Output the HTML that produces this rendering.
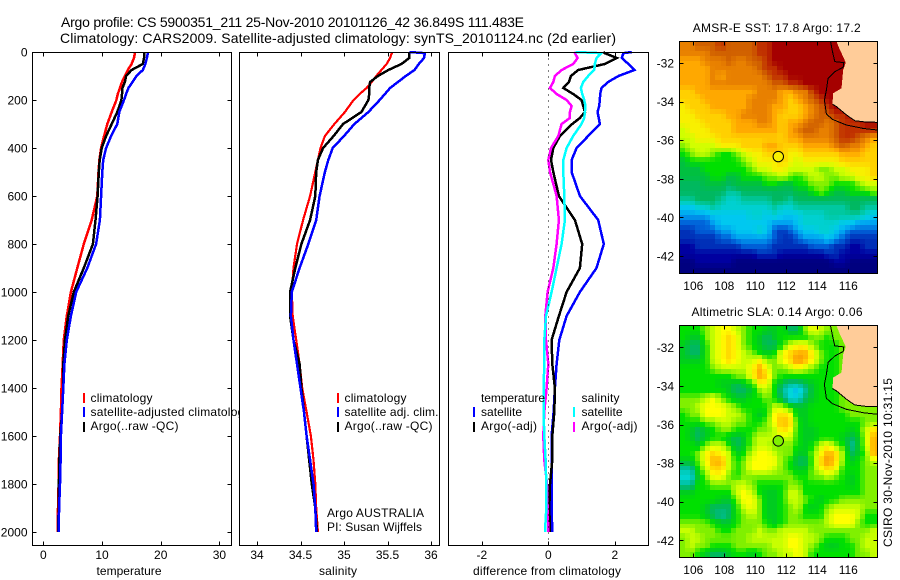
<!DOCTYPE html>
<html lang="en">
<head>
<meta charset="utf-8">
<title>Argo profile chart</title>
<style>
html,body{margin:0;padding:0;background:#fff;width:900px;height:580px;overflow:hidden}
svg{position:absolute;left:0;top:0;display:block}
text{font-family:"Liberation Sans",sans-serif;font-size:12px;fill:#000}
.ttl{font-size:14px}
</style>
</head>
<body>
<svg id="chart" xmlns="http://www.w3.org/2000/svg" width="900" height="580" viewBox="0 0 900 580">
  <defs>
    <clipPath id="legend-clip"><rect x="33" y="52" width="207" height="494"/></clipPath>
  </defs>
  <rect x="0" y="0" width="900" height="580" fill="#fff"/>
  <text class="ttl" x="61" y="27" textLength="463">Argo profile: CS 5900351_211 25-Nov-2010 20101126_42 36.849S 111.483E</text>
  <text class="ttl" x="60" y="43" textLength="556">Climatology: CARS2009. Satellite-adjusted climatology: synTS_20101124.nc (2d earlier)</text>
  <g id="plots"></g>

  <g>
    <rect x="83" y="393" width="2" height="10" fill="#f00"/>
    <rect x="83" y="407" width="2" height="10" fill="#00f"/>
    <rect x="83" y="422" width="2" height="10" fill="#000"/>
    <text x="90.5" y="402" textLength="62">climatology</text>
    <text x="90.5" y="416" clip-path="url(#legend-clip)" textLength="160">satellite-adjusted climatology</text>
    <text x="90.5" y="430" textLength="88">Argo(..raw -QC)</text>
  </g>
  <g>
    <rect x="337" y="393" width="2" height="10" fill="#f00"/>
    <rect x="337" y="407" width="2" height="10" fill="#00f"/>
    <rect x="337" y="422" width="2" height="10" fill="#000"/>
    <text x="344.5" y="402" textLength="62">climatology</text>
    <text x="344.5" y="416" textLength="94">satellite adj. clim.</text>
    <text x="344.5" y="430" textLength="88">Argo(..raw -QC)</text>
    <text x="327" y="517" textLength="97">Argo AUSTRALIA</text>
    <text x="327" y="531" textLength="95">PI: Susan Wijffels</text>
  </g>
  <g>
    <text x="481" y="402" textLength="64">temperature</text>
    <rect x="473" y="407" width="2" height="10" fill="#00f"/>
    <text x="481" y="416" textLength="41">satellite</text>
    <rect x="473" y="422" width="2" height="10" fill="#000"/>
    <text x="481" y="430" textLength="56">Argo(-adj)</text>
    <text x="581.5" y="402" textLength="38">salinity</text>
    <rect x="573" y="407" width="2" height="10" fill="#0ff"/>
    <text x="581.5" y="416" textLength="41">satellite</text>
    <rect x="573" y="422" width="2" height="10" fill="#f0f"/>
    <text x="581.5" y="430" textLength="56">Argo(-adj)</text>
  </g>

  <text x="129" y="575" text-anchor="middle" textLength="65">temperature</text>
  <text x="338" y="575" text-anchor="middle" textLength="38">salinity</text>
  <text x="547" y="575" text-anchor="middle" textLength="148">difference from climatology</text>
  <text x="776.7" y="32" text-anchor="middle" textLength="168">AMSR-E SST: 17.8 Argo: 17.2</text>
  <text x="777" y="316" text-anchor="middle" textLength="171">Altimetric SLA: 0.14 Argo: 0.06</text>
  <text transform="translate(892,547) rotate(-90)" textLength="169">CSIRO 30-Nov-2010 10:31:15</text>
</svg>

<script>
// ---- profile data ----
var profileDepths = [0,5,25,50,75,100,125,150,175,200,250,300,350,400,450,500,600,700,800,900,1000,1100,1200,1300,1400,1500,1600,1700,1800,1900,2000];
var tempClim = [15.6,15.6,15.45,15.05,14.4,13.9,13.4,13.05,12.7,12.45,11.65,10.9,10.35,9.85,9.55,9.4,9.2,8.25,6.9,5.8,4.7,4.0,3.5,3.3,3.1,3.0,2.85,2.65,2.6,2.5,2.45];
var tempSat = [17.8,17.8,17.65,17.4,16.95,15.9,15.2,14.5,14.1,13.75,12.95,12.6,11.55,10.7,10.2,10.05,9.85,9.65,9.0,7.5,5.6,4.7,4.0,3.6,3.4,3.2,3.0,2.95,2.85,2.7,2.6];
var tempArgo = [17.15,17.15,17.15,16.95,15.05,14.1,13.9,13.5,13.4,13.3,12.6,11.65,10.7,9.95,9.6,9.45,9.25,8.9,8.45,6.9,5.2,4.25,3.7,3.4,3.4,3.2,2.9,2.75,2.65,2.6,2.55];
var salClim = [35.55,35.55,35.53,35.49,35.43,35.37,35.32,35.26,35.18,35.11,35.01,34.89,34.78,34.73,34.70,34.67,34.61,34.53,34.46,34.42,34.40,34.41,34.45,34.49,34.52,34.57,34.62,34.65,34.67,34.68,34.70];
var salSat = [35.75,35.93,35.92,35.86,35.81,35.71,35.62,35.53,35.47,35.41,35.28,35.12,35.0,34.87,34.82,34.78,34.72,34.68,34.59,34.49,34.40,34.39,34.42,34.46,34.50,34.54,34.57,34.61,34.65,34.67,34.68];
var salArgo = [35.75,35.75,35.75,35.66,35.51,35.39,35.30,35.29,35.29,35.28,35.20,34.99,34.88,34.76,34.70,34.68,34.67,34.61,34.51,34.44,34.38,34.38,34.42,34.49,34.51,34.54,34.57,34.60,34.63,34.67,34.69];

var diffDepths = [0,5,25,50,75,100,125,150,175,200,225,250,275,300,350,400,450,500,600,700,800,900,1000,1100,1200,1300,1400,1500,1600,1700,1800,1900,2000];
var diffTempSat = [2.51,2.26,2.21,2.41,2.59,2.11,1.80,1.60,1.56,1.55,1.53,1.48,1.52,1.55,1.20,0.85,0.70,0.70,0.95,1.50,1.67,1.45,0.95,0.55,0.33,0.25,0.20,0.16,0.10,0.11,0.10,0.10,0.12];
var diffTempArgo = [1.65,1.70,2.06,1.70,0.90,0.68,0.62,0.45,0.75,1.00,1.05,1.10,0.95,0.72,0.35,0.15,0.08,0.15,0.32,0.80,1.02,0.95,0.55,0.32,0.10,0.12,0.20,0.18,0.12,0.12,0.05,0.03,0.05];
var diffSalSat = [0.82,1.60,1.45,1.40,1.38,1.20,1.05,0.98,1.02,1.08,1.12,1.10,1.08,1.00,0.75,0.55,0.45,0.45,0.48,0.50,0.40,0.25,0.10,-0.07,-0.12,-0.12,-0.14,-0.14,-0.12,-0.08,-0.06,-0.06,-0.10];
var diffSalArgo = [0.82,0.80,0.88,0.75,0.40,0.20,0.15,0.05,0.25,0.55,0.70,0.65,0.65,0.40,0.30,0.08,0,0.05,0.25,0.32,0.25,0.15,-0.02,-0.09,-0.07,0,-0.05,-0.12,-0.15,-0.12,-0.04,-0.02,0];

// ---- tick labels ----
var depthTicks = [0,200,400,600,800,1000,1200,1400,1600,1800,2000];
var tempTicks = [0,10,20,30];
var salTicks = [34,34.5,35,35.5,36];
var diffTicks = [-2,0,2];
var lonTicks = [106,108,110,112,114,116];
var latTicks = [-32,-34,-36,-38,-40,-42];

// ---- map data: colour-class value of each gridded cell, north to south ----
var sstGrid = [
[16,16,17,17,17,18,17,17,17,17,18,18,19,19,19,19,19,19,19,19,19,19,19,19,19,19],
[16,16,16,16,17,17,17,17,17,17,18,18,19,19,19,19,19,19,19,19,19,19,19,19,19,19],
[15,15,15,16,16,16,17,16,16,17,17,18,19,19,19,19,19,19,19,19,19,19,19,19,19,19],
[15,15,15,15,16,16,16,16,16,16,17,18,18,19,19,19,19,19,19,19,19,19,19,19,19,19],
[15,15,15,15,16,15,16,16,16,16,16,17,18,18,19,19,19,19,19,19,19,19,19,19,19,19],
[15,15,15,15,16,16,16,16,16,16,16,16,17,17,18,18,19,19,19,19,19,19,19,19,19,19],
[14,14,15,15,15,15,15,15,15,15,16,16,16,15,15,16,16,18,19,19,19,19,19,19,19,19],
[14,14,14,15,15,15,15,15,15,16,16,16,16,15,14,15,16,17,18,19,19,19,19,19,19,19],
[13,14,14,14,15,15,15,15,15,16,16,16,15,15,14,14,15,16,17,18,19,19,19,19,19,19],
[13,13,14,14,14,14,15,15,16,16,16,16,15,14,14,14,15,16,17,17,18,18,19,19,19,19],
[13,13,13,14,14,14,14,15,15,15,16,16,15,14,15,15,16,17,17,16,17,18,18,18,19,19],
[12,13,13,13,14,14,14,15,15,15,15,15,15,14,15,16,17,17,16,16,17,18,18,18,18,18],
[12,12,13,13,13,14,14,14,14,14,14,14,14,14,15,15,16,16,16,16,17,18,18,17,16,15],
[11,12,12,12,12,13,13,13,14,14,14,15,15,14,14,14,15,15,15,15,16,17,16,16,15,14],
[10,11,12,12,11,10,10,11,12,13,13,14,14,14,13,13,14,14,14,14,14,15,15,15,14,14],
[9,10,10,10,10,10,10,10,11,12,13,13,13,14,13,12,13,13,13,13,13,14,14,14,14,14],
[9,9,9,10,10,10,10,10,10,11,12,12,13,13,12,12,12,12,11,11,12,12,13,13,13,14],
[9,9,9,9,10,10,9,9,10,10,10,11,11,12,11,10,11,12,12,11,11,12,12,13,13,14],
[8,8,8,9,9,9,8,9,9,9,9,10,10,9,9,10,10,11,11,11,10,10,10,11,12,12],
[8,8,8,8,8,8,7,7,8,8,8,8,8,8,8,9,9,10,11,10,9,9,10,10,10,11],
[7,7,8,8,8,7,6,6,7,7,7,7,8,8,7,8,8,8,8,8,8,8,8,8,8,8],
[5,5,6,6,7,6,6,6,6,6,6,6,7,6,6,7,7,7,7,7,7,7,8,8,7,7],
[4,4,4,4,5,5,5,5,5,6,6,5,6,5,5,5,6,6,6,7,7,7,7,7,6,5],
[3,3,3,3,4,5,5,5,5,5,5,5,4,4,4,5,6,6,6,6,6,5,5,4,4,4],
[2,2,3,3,3,4,4,5,5,5,6,5,3,2,3,4,5,5,6,6,5,4,3,3,3,3],
[2,2,2,2,2,3,3,4,4,4,4,4,3,2,2,3,4,4,4,5,4,3,2,2,2,2],
[1,1,2,2,2,2,2,2,3,3,3,3,2,2,2,2,2,3,3,3,2,2,1,1,2,2],
[1,1,1,1,1,1,1,1,1,1,2,2,2,1,1,1,1,1,1,2,2,1,1,1,1,1],
[0,0,1,1,1,1,1,0,0,0,0,0,0,0,0,0,0,0,0,0,1,1,0,0,0,0],
[0,0,0,0,0,0,0,0,0,0,0,0,0,0,0,0,0,0,0,0,0,0,0,0,0,0]
];
var slaGrid = [
[5,5,5,6,7,8,8,7,6,5,5,4,4,5,3,3,6,8,7,6,6,6,6,6,6,6],
[5,4,4,6,7,8,9,8,6,5,4,3,4,5,5,5,5,6,6,5,6,6,6,6,6,6],
[4,3,3,5,7,8,9,8,6,5,4,3,3,5,7,8,8,6,5,5,5,6,6,6,6,6],
[4,3,3,5,7,8,9,8,7,6,5,4,5,8,9,10,10,8,6,5,5,6,6,6,6,6],
[4,4,4,5,7,8,9,8,7,7,8,6,6,8,9,11,10,8,6,5,5,6,6,6,6,6],
[5,5,5,5,6,7,7,7,7,8,10,8,6,6,7,8,7,6,5,5,5,6,6,6,6,6],
[5,5,5,5,5,5,5,6,6,8,10,9,6,5,5,5,5,5,5,5,5,6,6,6,6,6],
[5,5,5,5,5,4,4,3,4,5,8,8,5,3,2,2,3,4,5,5,5,6,6,6,6,6],
[5,5,5,5,5,5,4,3,3,4,6,7,5,2,1,0,2,4,5,5,5,6,6,6,6,6],
[6,6,6,7,8,6,5,4,4,5,5,6,5,3,1,1,3,4,5,5,5,6,6,6,6,6],
[6,6,7,8,8,8,7,6,5,5,5,5,7,7,5,4,4,5,5,5,5,6,6,6,6,6],
[5,6,6,8,8,8,7,7,6,5,4,5,8,9,8,4,4,5,5,5,5,5,6,6,6,6],
[5,5,5,6,6,7,7,6,6,5,5,6,8,10,9,5,4,5,5,5,5,5,5,5,6,6],
[5,4,3,4,5,6,6,5,5,5,6,6,7,9,8,5,4,4,5,5,5,5,4,5,7,9],
[5,4,3,4,5,5,4,3,4,6,7,7,7,7,7,5,4,4,5,5,5,4,3,4,7,10],
[5,5,4,6,7,7,5,3,4,6,7,7,6,6,6,5,4,5,7,8,6,5,2,4,7,10],
[5,5,6,8,9,8,7,4,5,7,8,8,7,6,6,4,4,6,8,10,9,6,3,4,6,10],
[4,4,6,8,10,10,7,5,6,8,8,8,8,6,5,3,3,6,9,11,9,6,4,5,6,7],
[2,2,5,7,9,9,7,5,6,8,8,8,7,6,5,4,4,6,8,9,8,5,5,5,6,6],
[1,1,4,6,8,8,6,5,6,6,6,6,6,6,6,5,5,6,6,7,6,5,4,5,6,6],
[2,2,5,5,6,6,6,7,7,6,5,5,5,5,6,6,5,5,5,5,5,5,4,5,6,6],
[4,4,5,5,5,5,5,7,8,7,5,4,4,5,7,7,5,5,5,5,5,5,5,5,6,6],
[5,5,5,5,5,4,4,6,8,8,6,4,4,5,7,7,6,5,4,5,5,6,6,6,6,6],
[5,5,5,4,3,3,3,5,7,8,6,4,4,5,6,7,5,4,5,6,7,7,7,7,6,6],
[5,5,5,4,3,2,3,5,6,7,6,4,4,5,6,6,5,5,5,7,8,8,8,7,5,5],
[6,6,6,6,5,4,4,5,6,6,6,5,4,5,6,6,6,6,6,7,8,8,8,6,5,5],
[7,7,6,6,6,5,5,6,6,6,7,6,6,7,7,7,7,6,6,6,6,6,6,6,6,7],
[6,7,7,6,6,6,6,6,6,7,7,7,7,7,8,8,7,7,6,5,5,5,6,6,7,7],
[6,7,6,6,5,5,5,6,6,6,6,6,7,7,8,8,7,6,5,4,4,5,5,6,7,7],
[6,6,5,4,3,3,4,5,5,4,5,6,6,7,7,8,7,5,5,5,5,5,5,6,6,7]
];
var sstClasses = ['#00007f','#0000a0','#0030b8','#0060d8','#00a0f0','#00c8f0','#00d0d0','#00c8a0','#00b860','#00c040','#00e000','#80f000','#d0ff00','#f8f000','#ffd000','#ffa800','#e88000','#d06000','#c03000','#a50000'];
var slaClasses = ['#00b8f0','#00d8d8','#00c0a0','#00b860','#00cc20','#00e000','#80f000','#c8ff00','#ffff00','#ffd800','#ffb000','#f09000'];

// ---- geography (degrees) ----
var landLon = [115.24,115.41,115.62,115.84,115.67,115.62,115.56,115.02,114.98,115.24,115.88,116.42,117.17,117.88,117.88];
var landLat = [-30.88,-31.24,-31.59,-31.98,-32.36,-32.79,-33.31,-33.57,-34.14,-34.26,-34.69,-34.99,-35.06,-35.07,-30.88];
var coastLon = [114.98,115.24,115.88,116.42,117.17,117.88];
var coastLat = [-34.14,-34.26,-34.69,-34.99,-35.06,-35.07];
var shelfLon = [114.85,114.98,115.13,115.71,115.67,115.13,114.70,114.59,114.46,114.59,114.98,115.88,116.95,117.88];
var shelfLat = [-30.88,-31.41,-31.93,-31.98,-32.22,-32.45,-32.79,-33.40,-33.92,-34.64,-34.92,-35.21,-35.39,-35.47];
var floatLon = 111.483;
var floatLat = -36.849;
var floatSstClass = 13;
var floatSlaClass = 6;

// ---- axis functions ----
function depthY(d){ return 52 + 0.24 * d; }
function tempX(t){ return 43.3 + 5.87 * t; }
function salX(s){ return 257 + 87 * (s - 34); }
function diffX(v){ return 548.3 + 33.25 * v; }
function lonX(lon){ return 693.3 + 15.5 * (lon - 106); }
function sstLatY(lat){ return 63 + 19.3 * (-32 - lat); }
function slaLatY(lat){ return 347.3 + 19.3 * (-32 - lat); }

var NS = 'http://www.w3.org/2000/svg';
var plots = document.getElementById('plots');
function mk(tag, attrs, parent, txt){
  var el = document.createElementNS(NS, tag);
  for (var k in attrs) el.setAttribute(k, attrs[k]);
  if (txt !== undefined) el.textContent = txt;
  parent.appendChild(el);
  return el;
}
function tickLine(g, x1, y1, x2, y2){
  var el = mk('line', {x1:x1, y1:y1, x2:x2, y2:y2, stroke:'#000', 'stroke-width':1, 'shape-rendering':'crispEdges'}, g);
  
  
}
function tickText(g, x, y, anchor, label){
  var el = mk('text', {x:x, y:y, 'text-anchor':anchor}, g, label);
  
  
}
function frame(g, x0, y0, x1, y1){
  var el = mk('rect', {x:x0, y:y0, width:x1-x0, height:y1-y0, fill:'none', stroke:'#000', 'stroke-width':1, 'shape-rendering':'crispEdges'}, g);
  
  
}
function background(g, x0, y0, x1, y1){
  var el = mk('rect', {x:x0, y:y0, width:x1-x0, height:y1-y0, fill:'#fff'}, g);
  
  
}
function profileLine(g, name, xf, depths, values, color, width){
  var pts = [];
  for (var i = 0; i < values.length; i++) pts.push(xf(values[i]).toFixed(1) + ',' + depthY(depths[i]).toFixed(1));
  var el = mk('polyline', {points:pts.join(' '), fill:'none', stroke:color, 'stroke-width':width, 'stroke-linejoin':'miter', 'shape-rendering':'crispEdges'}, g);
  
  
}

var PT = 52.5, PB = 545.5;

function profilePanel(name, x0, x1, xf, ticks, showDepth, lines){
  var g = mk('g', {}, plots);
  
  
  lines.forEach(function(l){ profileLine(g, l[0], xf, l[1], l[2], l[3], l[4]); });
  ticks.forEach(function(t){
    var x = Math.round(xf(t)) + 0.5;
    tickLine(g, x, PT, x, PT + 4);
    tickLine(g, x, PB, x, PB - 4);
    tickText(g, xf(t), 559, 'middle', String(t));
  });
  if (showDepth) depthTicks.forEach(function(d){
    var y = Math.round(depthY(d)) + 0.5;
    tickLine(g, x0, y, x0 + 4, y);
    tickLine(g, x1, y, x1 - 4, y);
    tickText(g, 27.5, depthY(d) + 4.5, 'end', String(d));
  });
  frame(g, x0, PT, x1, PB);
  return g;
}

// temperature panel
profilePanel('temperature-panel', 32.5, 231.5, tempX, tempTicks, true, [
  ['temperature-climatology-line', profileDepths, tempClim, '#f00', 2.5],
  ['temperature-argo-line', profileDepths, tempArgo, '#000', 2.5],
  ['temperature-satellite-line', profileDepths, tempSat, '#00f', 2.5]
]);

// salinity panel
(function(){
  var g = mk('g', {}, plots);
  
  
  background(g, 239.5, PT, 439.5, PB);
  background(g, 448.5, PT, 648.5, PB);
})();
profilePanel('salinity-panel', 239.5, 439.5, salX, salTicks, false, [
  ['salinity-climatology-line', profileDepths, salClim, '#f00', 2.2],
  ['salinity-argo-line', profileDepths, salArgo, '#000', 2.5],
  ['salinity-satellite-line', profileDepths, salSat, '#00f', 2.5]
]);

// difference panel
var diffPanel = profilePanel('difference-panel', 448.5, 648.5, diffX, diffTicks, false, [
  ['diff-temperature-satellite-line', diffDepths, diffTempSat, '#00f', 2.5],
  ['diff-temperature-argo-line', diffDepths, diffTempArgo, '#000', 2.5],
  ['diff-salinity-argo-line', diffDepths, diffSalArgo, '#f0f', 2.5],
  ['diff-salinity-satellite-line', diffDepths, diffSalSat, '#0ff', 2.5]
]);
var zeroLine = mk('line', {x1:Math.round(diffX(0))+0.5, y1:PT, x2:Math.round(diffX(0))+0.5, y2:PB, stroke:'#000', 'stroke-width':1, 'stroke-dasharray':'1 5', 'shape-rendering':'crispEdges'}, diffPanel);



// maps: the read-off grid is painted through a finer bilinear raster (~5px cells, as in the product image)
var LON_W = 105.1, LON_STEP = 12.8 / 26, LAT_N = -30.88, LAT_STEP = 12.02 / 30;
var RASTER_LON = 0.333, RASTER_LAT = 0.25;

function sampleGrid(grid, lon, lat){
  var fx = (lon - LON_W) / LON_STEP - 0.5;
  var fy = (LAT_N - lat) / LAT_STEP - 0.5;
  fx = Math.max(0, Math.min(grid[0].length - 1, fx));
  fy = Math.max(0, Math.min(grid.length - 1, fy));
  var ix = Math.min(grid[0].length - 2, Math.floor(fx));
  var iy = Math.min(grid.length - 2, Math.floor(fy));
  var tx = fx - ix, ty = fy - iy;
  return (grid[iy][ix] * (1 - tx) + grid[iy][ix + 1] * tx) * (1 - ty) +
         (grid[iy + 1][ix] * (1 - tx) + grid[iy + 1][ix + 1] * tx) * ty;
}
function hexRgb(h){
  return [parseInt(h.substr(1,2),16), parseInt(h.substr(3,2),16), parseInt(h.substr(5,2),16)];
}
function classColor(classes, v){
  var a = Math.max(0, Math.min(classes.length - 1, Math.floor(v)));
  var b = Math.min(classes.length - 1, a + 1);
  var t = Math.max(0, Math.min(1, v - a));
  var ca = hexRgb(classes[a]), cb = hexRgb(classes[b]);
  return 'rgb(' + Math.round(ca[0] + (cb[0] - ca[0]) * t) + ',' + Math.round(ca[1] + (cb[1] - ca[1]) * t) + ',' + Math.round(ca[2] + (cb[2] - ca[2]) * t) + ')';
}

function mapPanel(name, grid, classes, latY, y0, y1, floatClass){
  var g = mk('g', {}, plots);
  
  
  var x0 = 679.5, x1 = 877.5;
  var nx = Math.ceil(12.8 / RASTER_LON), ny = Math.ceil(12.02 / RASTER_LAT);
  for (var i = 0; i < ny; i++) {
    for (var j = 0; j < nx; j++) {
      var loA = LON_W + j * RASTER_LON, laA = LAT_N - i * RASTER_LAT;
      var xa = Math.max(Math.floor(x0), Math.round(lonX(loA)));
      var xb = Math.min(Math.ceil(x1), Math.round(lonX(loA + RASTER_LON)));
      var ya = Math.max(Math.floor(y0), Math.round(latY(laA)));
      var yb = Math.min(Math.ceil(y1), Math.round(latY(laA - RASTER_LAT)));
      if (xb <= xa || yb <= ya) continue;
      var v = sampleGrid(grid, loA + RASTER_LON / 2, laA - RASTER_LAT / 2);
      var cell = mk('rect', {x:xa, y:ya, width:xb-xa, height:yb-ya, fill:classColor(classes, v), 'shape-rendering':'crispEdges'}, g);
      
      
    }
  }
  function pts(lons, lats){
    return lons.map(function(lo, i){ return lonX(lo).toFixed(1) + ',' + latY(lats[i]).toFixed(1); }).join(' ');
  }
  var land = mk('polygon', {points:pts(landLon, landLat), fill:'#ffcc99', 'shape-rendering':'crispEdges'}, g);
  
  
  var shelf = mk('polyline', {points:pts(shelfLon, shelfLat), fill:'none', stroke:'#000', 'stroke-width':1, 'shape-rendering':'crispEdges'}, g);
  
  
  var coast = mk('polyline', {points:pts(coastLon, coastLat), fill:'none', stroke:'#000', 'stroke-width':1, 'shape-rendering':'crispEdges'}, g);
  
  
  var marker = mk('circle', {cx:lonX(floatLon), cy:latY(floatLat), r:5.2, fill:classes[floatClass], stroke:'#000', 'stroke-width':1}, g);
  
  
  lonTicks.forEach(function(t){
    var x = Math.round(lonX(t)) + 0.5;
    tickLine(g, x, y0, x, y0 + 4);
    tickLine(g, x, y1, x, y1 - 4);
    tickText(g, lonX(t), y1 + 16.5, 'middle', String(t));
  });
  latTicks.forEach(function(t){
    var y = Math.round(latY(t)) + 0.5;
    tickLine(g, x0, y, x0 + 4, y);
    tickLine(g, x1, y, x1 - 4, y);
    tickText(g, 674, latY(t) + 4.5, 'end', String(t));
  });
  frame(g, x0, y0, x1, y1);
}
mapPanel('sst-map', sstGrid, sstClasses, sstLatY, 41.5, 273.5, floatSstClass);
mapPanel('sla-map', slaGrid, slaClasses, slaLatY, 325.5, 557.5, floatSlaClass);
</script>
</body>
</html>
